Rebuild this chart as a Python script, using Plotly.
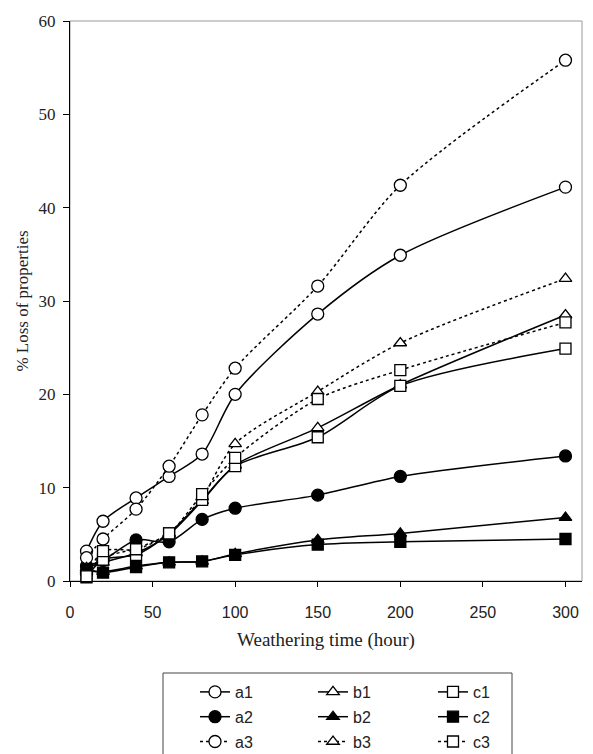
import plotly.graph_objects as go

hours = [10, 20, 40, 60, 80, 100, 150, 200, 300]

a1 = [3.2, 6.4, 8.9, 11.2, 13.6, 20.0, 28.6, 34.9, 42.2]
a2 = [1.6, 2.2, 4.4, 4.2, 6.6, 7.8, 9.2, 11.2, 13.4]
a3 = [2.5, 4.5, 7.7, 12.3, 17.8, 22.8, 31.6, 42.4, 55.8]
b1 = [1.4, 2.0, 3.0, 5.0, 8.6, 12.4, 16.4, 21.0, 28.5]
b2 = [1.2, 1.0, 1.6, 2.0, 2.1, 2.9, 4.4, 5.1, 6.8]
b3 = [1.0, 2.5, 3.5, 5.1, 9.0, 14.7, 20.3, 25.5, 32.4]
c1 = [0.4, 2.3, 2.8, 5.1, 8.7, 12.3, 15.4, 20.9, 24.9]
c2 = [1.2, 0.9, 1.5, 2.0, 2.1, 2.8, 3.9, 4.2, 4.5]
c3 = [0.5, 3.2, 3.4, 5.1, 9.3, 13.2, 19.5, 22.6, 27.7]

x_ticks = [0, 50, 100, 150, 200, 250, 300]
y_ticks = [0, 10, 20, 30, 40, 50, 60]

series = [
    # name, values, symbol, filled, dash, legend
    ("a1", a1, "circle", False, "solid", "legend"),
    ("a2", a2, "circle", True, "solid", "legend"),
    ("a3", a3, "circle", False, "dot", "legend"),
    ("b1", b1, "triangle-up", False, "solid", "legend2"),
    ("b2", b2, "triangle-up", True, "solid", "legend2"),
    ("b3", b3, "triangle-up", False, "dot", "legend2"),
    ("c1", c1, "square", False, "solid", "legend3"),
    ("c2", c2, "square", True, "solid", "legend3"),
    ("c3", c3, "square", False, "dot", "legend3"),
]

sizes = {"circle": 12, "triangle-up": 11, "square": 11}

fig = go.Figure()
for name, vals, sym, filled, dash, leg in series:
    fig.add_trace(go.Scatter(
        x=hours, y=vals, name=name, mode="lines+markers",
        line=dict(color="black", width=1.5, dash=dash, shape="spline", smoothing=0.8),
        marker=dict(symbol=sym, size=sizes[sym],
                    color="black" if filled else "white",
                    line=dict(color="black", width=1.3)),
        cliponaxis=False, legend=leg, legendgroup=name,
    ))

serif = "Liberation Serif"
sans = "Liberation Sans"

leg_common = dict(
    orientation="v", xanchor="left", yanchor="top",
    font=dict(family=sans, size=16, color="#222"),
    bgcolor="rgba(0,0,0,0)", borderwidth=0, tracegroupgap=1,
)
y_leg = (581 - 675) / 560

fig.update_layout(
    width=593, height=754,
    margin=dict(l=70, r=11, t=21, b=173, autoexpand=False),
    paper_bgcolor="white", plot_bgcolor="white",
    showlegend=True,
    legend=dict(x=(195 - 70) / 512, y=y_leg, **leg_common),
    legend2=dict(x=(313 - 70) / 512, y=y_leg, **leg_common),
    legend3=dict(x=(433 - 70) / 512, y=y_leg, **leg_common),
    xaxis=dict(
        range=[0, 310], tickvals=x_ticks, ticks="outside", ticklen=5,
        tickcolor="black", showline=True, linecolor="black", linewidth=1,
        showgrid=False, zeroline=False, ticklabelstandoff=12,
        tickfont=dict(family=sans, size=16, color="#222"),
        title=dict(text="Weathering time (hour)", standoff=12,
                   font=dict(family=serif, size=19, color="#222")),
    ),
    yaxis=dict(
        range=[0, 60], tickvals=y_ticks, ticks="outside", ticklen=6,
        tickcolor="black", showline=True, linecolor="black", linewidth=1,
        showgrid=False, zeroline=False, ticklabelstandoff=4,
        tickfont=dict(family=serif, size=17, color="#222"),
        title=dict(text="% Loss of properties", standoff=5,
                   font=dict(family=serif, size=17, color="#222")),
    ),
    shapes=[
        dict(type="rect", xref="paper", yref="paper", x0=0, x1=1, y0=0, y1=1,
             line=dict(color="#999", width=1), layer="below"),
        dict(type="rect", xref="paper", yref="paper",
             x0=(163 - 70) / 512, x1=(512 - 70) / 512,
             y0=-0.34, y1=(581 - 673) / 560,
             line=dict(color="#444", width=1), layer="below"),
    ],
)

fig.write_html("out.html")
